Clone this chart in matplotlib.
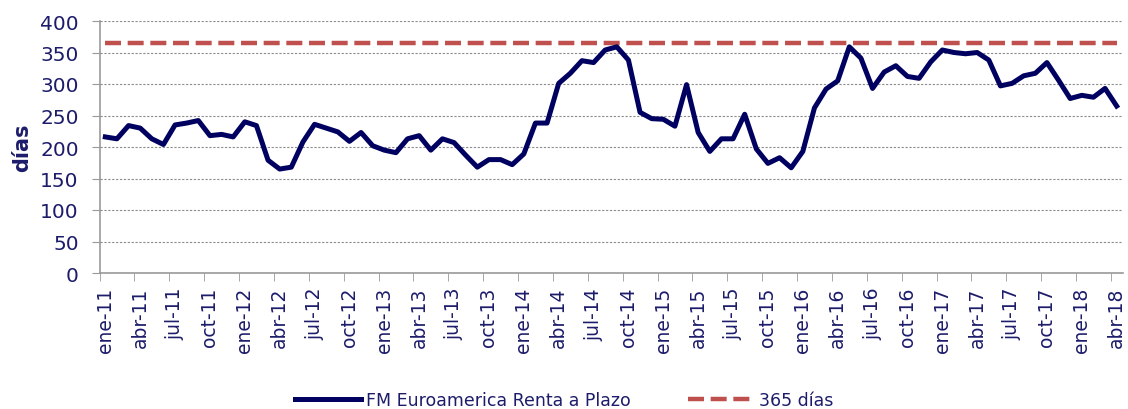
import numpy as np
import matplotlib
matplotlib.use("Agg")
from matplotlib import pyplot as plt

# monthly series ene-11 .. abr-18
meses = ['ene', 'feb', 'mar', 'abr', 'may', 'jun', 'jul', 'ago', 'sep', 'oct', 'nov', 'dic']
labels = [meses[m] + '-' + str(a)[2:] for a in range(2011, 2019) for m in range(12)][:88]

fm_euroamerica = [
    216, 213, 234, 230, 213, 204, 235, 238, 242, 218, 220, 216,   # 2011
    240, 234, 179, 165, 168, 208, 236, 230, 224, 209, 223, 202,   # 2012
    195, 191, 213, 218, 195, 213, 207, 187, 168, 180, 180, 172,   # 2013
    189, 238, 238, 301, 317, 337, 334, 354, 359, 338, 255, 245,   # 2014
    244, 233, 299, 223, 193, 213, 213, 252, 197, 174, 183, 167,   # 2015
    193, 262, 292, 305, 359, 341, 293, 319, 329, 312, 309, 335,   # 2016
    354, 350, 348, 350, 338, 297, 301, 313, 317, 334, 306, 277,   # 2017
    282, 279, 293, 265,                                           # 2018
]
limite = 365

navy = '#000060'
txt = '#1c1c6b'
red = '#C0504D'

x = np.arange(len(fm_euroamerica))

fig = plt.figure(figsize=(11.28, 4.10), dpi=100)
ax = fig.add_axes([99.5/1128, 1-274/410, 1023/1128, 252/410])

ax.plot(x, fm_euroamerica, color=navy, lw=3.6, solid_joinstyle='round',
        label='FM Euroamerica Renta a Plazo', zorder=3)
ax.plot(x, [limite]*len(x), color=red, lw=3.2, dashes=(3.6, 1.5),
        label='365 días', zorder=2)

ax.set_xlim(-0.5, len(x) - 0.5)
ax.set_ylim(0, 400)
ax.set_yticks(range(0, 401, 50))
ax.grid(axis='y', color='#8c8c8c', ls=(0, (2, 1.5)), lw=0.8)
ax.set_axisbelow(True)

# labels on the points, tick marks between categories
ax.set_xticks(x[::3])
ax.set_xticklabels(labels[::3], rotation=90)
ax.set_xticks(x[::3] - 0.5, minor=True)
ax.tick_params(axis='x', which='major', length=0, pad=10, labelsize=13.5, labelcolor=txt)
ax.tick_params(axis='x', which='minor', length=6, color='#999999', direction='out')
ax.tick_params(axis='y', length=6, color='#999999', labelsize=14.5, labelcolor=txt, pad=9)

for s in ['top', 'right']:
    ax.spines[s].set_visible(False)
for s in ['left', 'bottom']:
    ax.spines[s].set_color('#999999')
    ax.spines[s].set_linewidth(1.2)

fig.text(0.02, 1-148/410, 'días', rotation=90, ha='center', va='center',
         fontsize=15, fontweight='bold', color=txt)

leg = fig.legend(loc='center', bbox_to_anchor=(0.5, 0.022), ncol=2, frameon=False,
                 fontsize=12.5, handlelength=3.8, handletextpad=0.3, columnspacing=3.3)
for t in leg.get_texts():
    t.set_color(txt)

fig.savefig('out.png', dpi=100)
